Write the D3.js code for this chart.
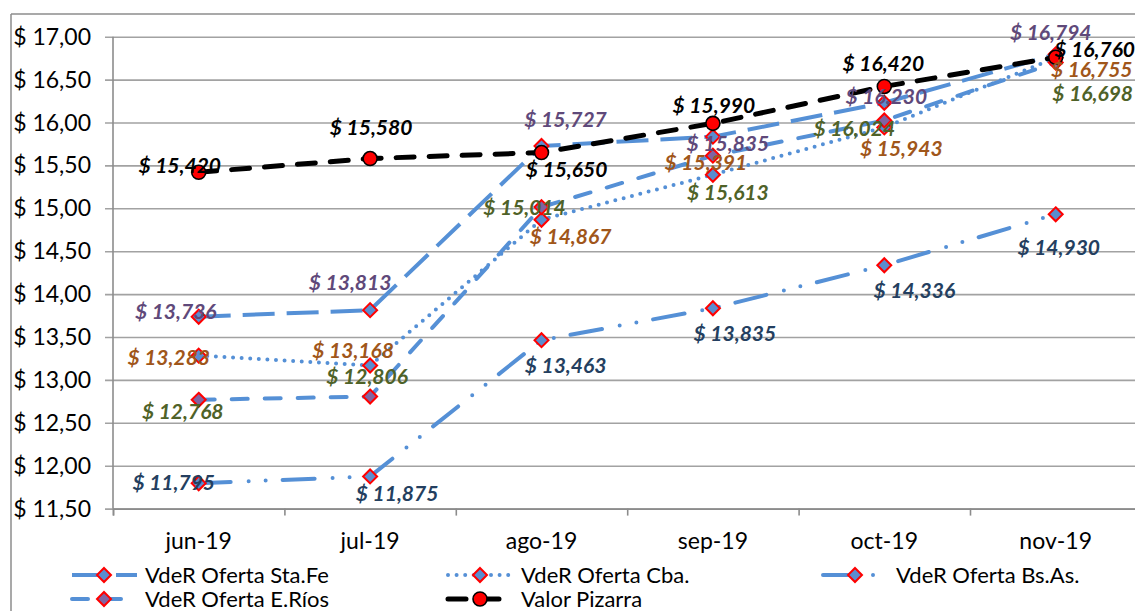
<!DOCTYPE html>
<html><head><meta charset="utf-8">
<script src="https://cdn.jsdelivr.net/npm/d3@7"></script>
<style>html,body{margin:0;padding:0;overflow:hidden;background:#fff}</style>
</head><body><svg id="c" width="1135" height="611"></svg>
<script>
// ---- data ----
const categories = ["jun-19","jul-19","ago-19","sep-19","oct-19","nov-19"];
const staFe   = [13.736, 13.813, 15.727, 15.835, 16.230, 16.794];
const cba     = [13.283, 13.168, 14.867, 15.391, 15.943, 16.755];
const bsAs    = [11.795, 11.875, 13.463, 13.835, 14.336, 14.930];
const eRios   = [12.768, 12.806, 15.014, 15.613, 16.024, 16.698];
const pizarra = [15.420, 15.580, 15.650, 15.990, 16.420, 16.760];
const seriesNames = ["VdeR Oferta Sta.Fe","VdeR Oferta Cba.","VdeR Oferta Bs.As.","VdeR Oferta E.Ríos","Valor Pizarra"];
const yTicks = [11.5, 12, 12.5, 13, 13.5, 14, 14.5, 15, 15.5, 16, 16.5, 17];

// ---- layout / style (not data) ----
const labelOffsets = {
  staFe:   [[-23,-5],[-20,-27],[24,-26],[15,7],[2,-6],[-5,-22]],
  cba:     [[-30,2],[-17,-15],[29,17],[-7,-12],[17,21],[36,12]],
  bsAs:    [[-25,-1],[27,17],[24,25],[22,25],[30,25],[3,33]],
  eRios:   [[-16,12],[-3,-20],[-17,1],[15,37],[-30,8],[37,31]],
  pizarra: [[-19,-7],[1,-31],[25,17],[1,-18],[-1,-23],[39,-8]]
};
const LINE_BLUE = "#5590D6";
const series = [
  {key:"staFe", name:seriesNames[0], values:staFe, dash:"32,12", cap:"butt", w:4, label:"#5F497A", mfill:"#5A8DD0", marker:"diamond", lineColor:LINE_BLUE},
  {key:"cba", name:seriesNames[1], values:cba, dash:"0,8.6", cap:"round", w:4, label:"#A0561A", mfill:"#5A8DD0", marker:"diamond", lineColor:LINE_BLUE},
  {key:"bsAs", name:seriesNames[2], values:bsAs, dash:"32,18,0,17,0,17", cap:"round", w:4, label:"#243F60", mfill:"#5A8DD0", marker:"diamond", lineColor:LINE_BLUE},
  {key:"eRios", name:seriesNames[3], values:eRios, dash:"16,17", cap:"round", w:4, label:"#4F6228", mfill:"#8064A2", marker:"diamond", lineColor:LINE_BLUE},
  {key:"pizarra", name:seriesNames[4], values:pizarra, dash:"18,15", cap:"round", w:5, label:"#000000", mfill:"#FF0000", marker:"circle", lineColor:"#000000"}
];

const svg = d3.select("#c");
const fontFam = "Lato, 'Carlito', Calibri, 'Open Sans', sans-serif";
const pLeft = 113, pRight = 1141.4, pTop = 36.7, pBottom = 508.6;

const x = d3.scalePoint().domain(categories).range([pLeft, pRight]).padding(0.5);
const y = d3.scaleLinear().domain([11.5, 17]).range([pBottom, pTop]);

const loc = d3.formatLocale({decimal:",", thousands:".", grouping:[3], currency:["$ ",""]});
const fmtTick = loc.format(".2f");
const fmtVal = loc.format(".3f");

// chart frame
svg.append("line").attr("x1",11).attr("x2",1135).attr("y1",14).attr("y2",14).attr("stroke","#8C8C8C").attr("stroke-width",1.5);
svg.append("line").attr("x1",11).attr("x2",11).attr("y1",14).attr("y2",611).attr("stroke","#8C8C8C").attr("stroke-width",1.5);

// gridlines via axis
const yAxis = d3.axisLeft(y).tickValues(yTicks).tickSize(-(pRight-pLeft)).tickFormat("");
const gy = svg.append("g").attr("transform",`translate(${pLeft},0)`).call(yAxis);
gy.select(".domain").remove();
gy.selectAll(".tick line").attr("stroke","#A2A2A2").attr("stroke-width",1.6).attr("x1",-8);
// y tick labels
svg.append("g").selectAll("text").data(yTicks).join("text")
  .attr("x",91).attr("y",d=>y(d)).attr("dy","0.35em").attr("text-anchor","end")
  .attr("font-family",fontFam).attr("font-size",23).attr("fill","#000")
  .text(d=>"$ "+fmtTick(d));
// y axis line
svg.append("line").attr("x1",pLeft).attr("x2",pLeft).attr("y1",pTop).attr("y2",pBottom).attr("stroke","#8C8C8C").attr("stroke-width",1.6);

// x axis
const xb = d3.scaleLinear().domain([0,categories.length]).range([pLeft,pRight]);
const xAxis = d3.axisBottom(xb).tickValues(d3.range(0,categories.length+1)).tickSize(7).tickFormat("");
const gx = svg.append("g").attr("transform",`translate(0,${pBottom})`).call(xAxis);
gx.select(".domain").attr("stroke","#8C8C8C").attr("stroke-width",1.6);
gx.selectAll(".tick line").attr("stroke","#8C8C8C").attr("stroke-width",1.6);
svg.append("g").selectAll("text").data(categories).join("text")
  .attr("x",d=>x(d)).attr("y",541).attr("dy","0.35em").attr("text-anchor","middle")
  .attr("font-family",fontFam).attr("font-size",23).attr("fill","#000").text(d=>d);

function drawMarker(g, s, cx, cy){
  if (s.marker === "circle"){
    g.append("circle").attr("cx",cx).attr("cy",cy).attr("r",7)
      .attr("fill",s.mfill).attr("stroke","#000").attr("stroke-width",1.6);
  } else {
    const r = 7;
    g.append("path").attr("d",`M${cx},${cy-r}L${cx+r},${cy}L${cx},${cy+r}L${cx-r},${cy}Z`)
      .attr("fill",s.mfill).attr("stroke","#FF0000").attr("stroke-width",2);
  }
}

const line = d3.line().x((d,i)=>x(categories[i])).y(d=>y(d));
const gLines = svg.append("g");
series.forEach(s=>{
  const g = gLines.append("g");
  g.append("path").datum(s.values).attr("d",line).attr("fill","none")
    .attr("stroke",s.lineColor).attr("stroke-width",s.w).attr("stroke-dasharray",s.dash)
    .attr("stroke-linecap",s.cap).attr("stroke-linejoin","round");
  s.values.forEach((v,i)=>drawMarker(g, s, x(categories[i]), y(v)));
});

// data labels
const gLab = svg.append("g");
series.forEach(s=>{
  s.values.forEach((v,i)=>{
    const off = labelOffsets[s.key][i];
    gLab.append("text").attr("x",x(categories[i])+off[0]).attr("y",y(v)+off[1]).attr("dy","0.35em")
      .attr("text-anchor","middle").attr("font-family",fontFam).attr("font-size",21)
      .attr("font-weight","bold").attr("font-style","italic").attr("fill",s.label)
      .text("$ "+fmtVal(v));
  });
});

// legend
const legPos = [[104,575],[480,575],[855,575],[104,599],[480,599]];
const gLeg = svg.append("g");
series.forEach((s,k)=>{
  const [mx,my] = legPos[k];
  gLeg.append("line").attr("x1",mx-32).attr("x2",mx+33).attr("y1",my).attr("y2",my)
    .attr("stroke",s.lineColor).attr("stroke-width",s.w).attr("stroke-dasharray",s.dash).attr("stroke-linecap",s.cap);
  drawMarker(gLeg, s, mx, my);
  gLeg.append("text").attr("x",mx+41).attr("y",my).attr("dy","0.35em")
    .attr("font-family",fontFam).attr("font-size",22).attr("fill","#000").text(s.name);
});
</script></body></html>
